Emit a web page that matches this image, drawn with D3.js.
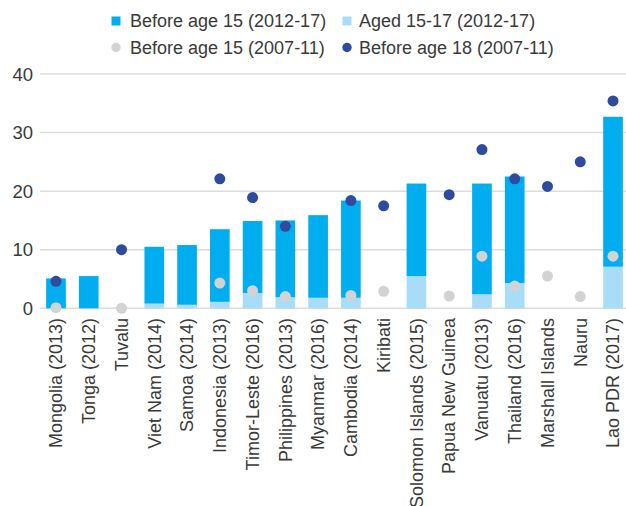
<!DOCTYPE html>
<html>
<head>
<meta charset="utf-8">
<script src="https://cdn.jsdelivr.net/npm/d3@7"></script>
<style>
  html, body { margin: 0; padding: 0; background: #fff; }
  svg { display: block; font-family: "Liberation Sans", Arial, sans-serif; }
</style>
</head>
<body>
<svg id="chart" width="626" height="506"></svg>
<script>
// Countries (survey year where available)
const categories = [
  "Mongolia (2013)", "Tonga (2012)", "Tuvalu", "Viet Nam (2014)", "Samoa (2014)",
  "Indonesia (2013)", "Timor-Leste (2016)", "Philippines (2013)", "Myanmar (2016)",
  "Cambodia (2014)", "Kiribati", "Solomon Islands (2015)", "Papua New Guinea",
  "Vanuatu (2013)", "Thailand (2016)", "Marshall Islands", "Nauru", "Lao PDR (2017)"
];

// Stacked bar segments, 2012-17 (%); the light segment sits at the base
const aged15to17_2012 = [0, 0, 0, 0.8, 0.6, 1.1, 2.6, 1.9, 1.8, 1.8, 0, 5.5, 0, 2.4, 4.3, 0, 0, 7.1];
const before15_2012   = [5.1, 5.5, 0, 9.7, 10.2, 12.4, 12.3, 13.1, 14.1, 16.6, 0, 15.8, 0, 18.9, 18.2, 0, 0, 25.6];

// Earlier survey round, 2007-11 (%); null = no data
const before15_2007 = [0.1, null, 0, null, null, 4.3, 3.0, 2.0, null, 2.2, 2.9, null, 2.1, 8.9, 3.8, 5.5, 2.0, 8.9];
const before18_2007 = [4.6, null, 10.0, null, null, 22.1, 18.9, 14.0, null, 18.4, 17.5, null, 19.4, 27.1, 22.1, 20.8, 25.0, 35.4];

const yTicks = [0, 10, 20, 30, 40];

const legendItems = [
  { label: "Before age 15 (2012-17)", shape: "square", color: "#00ADEF", col: 0, row: 0 },
  { label: "Aged 15-17 (2012-17)",    shape: "square", color: "#A9DDF7", col: 1, row: 0 },
  { label: "Before age 15 (2007-11)", shape: "circle", color: "#D2D3D5", col: 0, row: 1 },
  { label: "Before age 18 (2007-11)", shape: "circle", color: "#2E4B9E", col: 1, row: 1 }
];

const COLORS = { dark: "#00ADEF", light: "#A9DDF7", gray: "#D2D3D5", navy: "#2E4B9E", grid: "#DCDCDC", text: "#3A3A3A" };

const svg = d3.select("#chart");

const x = d3.scaleBand()
  .domain(categories)
  .range([39.6, 629.4])
  .paddingInner(0.4)
  .paddingOuter(0.2);

const y = d3.scaleLinear().domain([0, 40]).range([308.3, 74]);

// Gridlines and y tick labels
const grid = svg.append("g");
grid.selectAll("line").data(yTicks).join("line")
  .attr("x1", 40).attr("x2", 626)
  .attr("y1", d => y(d)).attr("y2", d => y(d))
  .attr("stroke", COLORS.grid).attr("stroke-width", 1.5);
grid.selectAll("text").data(yTicks).join("text")
  .attr("x", 33).attr("y", d => y(d))
  .attr("dy", "0.36em")
  .attr("text-anchor", "end")
  .attr("font-size", 18.5)
  .attr("fill", COLORS.text)
  .text(d => d);

// Stacked bars
const rows = categories.map((c, i) => ({ cat: c, light: aged15to17_2012[i], dark: before15_2012[i] }));
const stack = d3.stack().keys(["light", "dark"])(rows);
const fills = { light: COLORS.light, dark: COLORS.dark };

svg.append("g").selectAll("g").data(stack).join("g")
  .attr("fill", s => fills[s.key])
  .selectAll("rect").data(s => s.filter(d => d[1] - d[0] > 0)).join("rect")
  .attr("x", d => x(d.data.cat))
  .attr("width", x.bandwidth())
  .attr("y", d => y(d[1]))
  .attr("height", d => y(d[0]) - y(d[1]));

// Dots for the 2007-11 round
function dots(values, color) {
  svg.append("g").selectAll("circle")
    .data(categories.map((c, i) => ({ cat: c, v: values[i] })).filter(d => d.v !== null))
    .join("circle")
    .attr("cx", d => x(d.cat) + x.bandwidth() / 2)
    .attr("cy", d => y(d.v))
    .attr("r", 5.5)
    .attr("fill", color);
}
dots(before15_2007, COLORS.gray);
dots(before18_2007, COLORS.navy);

// Rotated category labels
svg.append("g").selectAll("text").data(categories).join("text")
  .attr("transform", d => `translate(${x(d) + x.bandwidth() / 2},318) rotate(-90)`)
  .attr("dy", "0.35em")
  .attr("text-anchor", "end")
  .attr("font-size", 18)
  .attr("fill", COLORS.text)
  .text(d => d);

// Legend
const colX = [116, 347];
const textX = [130, 359];
const rowY = [21, 47.5];
const leg = svg.append("g").selectAll("g").data(legendItems).join("g")
  .attr("transform", d => `translate(${colX[d.col]},${rowY[d.row]})`);
leg.filter(d => d.shape === "square").append("rect")
  .attr("x", -4.5).attr("y", -4.5).attr("width", 9).attr("height", 9)
  .attr("fill", d => d.color);
leg.filter(d => d.shape === "circle").append("circle")
  .attr("r", 4.7)
  .attr("fill", d => d.color);
leg.append("text")
  .attr("x", d => textX[d.col] - colX[d.col])
  .attr("dy", "0.35em")
  .attr("font-size", 18)
  .attr("fill", COLORS.text)
  .text(d => d.label);
</script>
</body>
</html>
